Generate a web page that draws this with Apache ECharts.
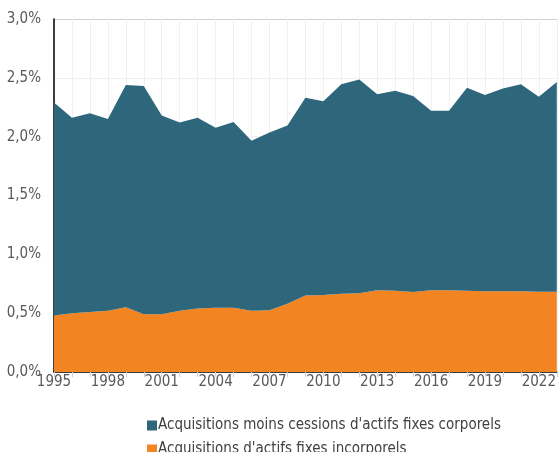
<!DOCTYPE html>
<html>
<head>
<meta charset="utf-8">
<script src="https://cdn.jsdelivr.net/npm/echarts@6/dist/echarts.min.js"></script>
<style>
  html, body { margin: 0; padding: 0; background: #fff; }
  #chart { width: 559px; height: 452px; }
</style>
</head>
<body>
<div id="chart"></div>
<script>
var years = [];
for (var y = 1995; y <= 2023; y++) years.push(String(y));

// total (part des investissements), en %
var totalSum = [2.29, 2.16, 2.20, 2.15, 2.44, 2.43, 2.18, 2.12, 2.16, 2.075, 2.125, 1.965,
                2.035, 2.095, 2.33, 2.30, 2.445, 2.485, 2.36, 2.39, 2.345, 2.22, 2.22, 2.415,
                2.355, 2.41, 2.445, 2.34, 2.465];
// incorporels
var incorporels = [0.48, 0.50, 0.51, 0.52, 0.55, 0.49, 0.49, 0.52, 0.54, 0.545, 0.545, 0.52,
                   0.525, 0.58, 0.65, 0.655, 0.665, 0.67, 0.695, 0.69, 0.68, 0.695, 0.695, 0.69,
                   0.686, 0.686, 0.686, 0.683, 0.683];
// corporels = total - incorporels
var corporels = totalSum.map(function (v, i) { return +(v - incorporels[i]).toFixed(3); });

var yTicks = [0, 0.5, 1, 1.5, 2, 2.5, 3];
var nameCorp = "Acquisitions moins cessions d'actifs fixes corporels";
var nameIncorp = "Acquisitions d'actifs fixes incorporels";

var chart = echarts.init(document.getElementById('chart'));
var labelFont = 'DejaVu Sans Condensed';
var legendBase = {
  left: 142,
  itemWidth: 10,
  itemHeight: 10,
  icon: 'rect',
  textStyle: { color: '#404040', fontSize: 15, fontFamily: labelFont, padding: [0, 0, 0, -4] }
};
var option = {
  animation: false,
  grid: { left: 54, right: 1, top: 19, bottom: 80 },
  legend: [
    Object.assign({ data: [nameCorp], top: 413 }, legendBase),
    Object.assign({ data: [nameIncorp], top: 437 }, legendBase)
  ],
  xAxis: {
    type: 'category',
    data: years,
    boundaryGap: false,
    axisLine: { lineStyle: { color: '#000', width: 1.5 } },
    axisTick: { show: true, interval: 0, length: 5, lineStyle: { color: '#d0d0d0' } },
    axisLabel: { interval: 2, color: '#595959', fontSize: 15, fontFamily: labelFont, margin: 3 },
    splitLine: { show: true, interval: 0, lineStyle: { color: '#f0f0f0' } }
  },
  yAxis: {
    type: 'value',
    min: 0,
    max: 3,
    interval: 0.5,
    axisLine: { show: true, lineStyle: { color: '#000', width: 1.5 } },
    axisTick: { show: false },
    axisLabel: {
      color: '#595959', fontSize: 15, fontFamily: labelFont, margin: 13,
      formatter: function (v) { return v.toFixed(1).replace('.', ',') + '%'; }
    },
    splitLine: {
      lineStyle: {
        color: yTicks.map(function (t) { return t === 3 ? '#d0d0d0' : '#f0f0f0'; })
      }
    }
  },
  series: [
    {
      name: nameIncorp,
      type: 'line',
      stack: 'total',
      data: incorporels,
      symbol: 'none',
      lineStyle: { width: 0 },
      itemStyle: { color: '#F28421' },
      areaStyle: { color: '#F28421', opacity: 1 }
    },
    {
      name: nameCorp,
      type: 'line',
      stack: 'total',
      data: corporels,
      symbol: 'none',
      lineStyle: { width: 0 },
      itemStyle: { color: '#2E667C' },
      areaStyle: { color: '#2E667C', opacity: 1 }
    }
  ]
};
chart.setOption(option);
window.addEventListener('resize', function () { chart.resize(); });
</script>
</body>
</html>
